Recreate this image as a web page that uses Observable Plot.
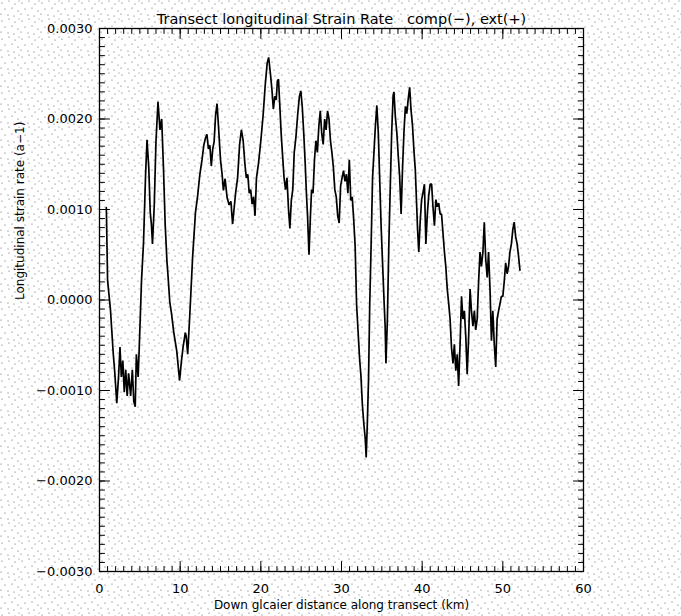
<!DOCTYPE html>
<html><head><meta charset="utf-8">
<script src="https://cdn.jsdelivr.net/npm/d3@7"></script>
<script src="https://cdn.jsdelivr.net/npm/@observablehq/plot@0.6"></script>
<style>
html,body{margin:0;padding:0;}
body{width:681px;height:616px;overflow:hidden;background-color:#fff;
background-image:url("data:image/svg+xml;utf8,<svg xmlns='http://www.w3.org/2000/svg' width='20' height='18'><g fill='%23585858'><circle cx='2' cy='3' r='0.6'/><circle cx='9' cy='1' r='0.6'/><circle cx='15' cy='4' r='0.6'/><circle cx='5' cy='9' r='0.6'/><circle cx='12' cy='8' r='0.6'/><circle cx='18' cy='11' r='0.6'/><circle cx='1' cy='14' r='0.6'/><circle cx='8' cy='15' r='0.6'/><circle cx='14' cy='16' r='0.6'/><circle cx='19' cy='1' r='0.5'/></g></svg>");}
#chart svg{display:block;}
</style></head><body><div id="chart"></div>
<script>
const title = "Transect longitudinal Strain Rate   comp(\u2212), ext(+)";
const xLabel = "Down glcaier distance along transect (km)";
const yLabel = "Longitudinal strain rate (a\u22121)";
const xTickLabels = [0, 10, 20, 30, 40, 50, 60];
const yTickLabels = [-0.003, -0.002, -0.001, 0, 0.001, 0.002, 0.003];

const distanceKm = [
0.85,1.0,1.36,1.71,1.9,2.14,2.36,2.54,2.71,2.89,3.07,3.25,3.43,3.61,3.86,4.07,4.25,4.43,4.57,4.79,4.93,
5.21,5.46,5.71,5.89,6.11,6.29,6.43,6.57,6.79,7.0,7.25,7.5,7.71,7.93,8.14,8.36,8.5,8.71,8.93,9.21,9.57,9.93,
10.14,10.36,10.64,10.75,10.93,11.18,11.54,11.9,12.14,12.43,12.71,12.93,13.14,13.32,13.5,13.68,13.86,14.04,
14.21,14.39,14.57,14.75,15.0,15.21,15.36,15.57,15.82,16.07,16.29,16.5,
16.87,17.12,17.37,17.59,17.81,18.02,18.2,18.38,18.56,18.74,18.92,19.1,19.28,19.46,19.71,20.0,20.29,20.54,
20.79,20.97,21.19,21.37,21.55,21.73,21.91,22.05,22.19,22.34,22.52,22.7,22.88,23.06,23.24,23.42,23.6,23.78,
23.96,24.14,24.35,24.57,24.78,24.96,25.14,25.32,25.5,25.65,25.79,25.97,26.15,26.29,26.47,26.65,26.83,27.01,
27.19,27.37,27.55,27.73,27.91,28.09,28.27,28.45,28.63,28.81,28.99,29.17,29.35,29.53,29.71,29.89,30.07,30.25,
30.43,30.61,30.79,30.97,31.15,31.33,31.51,31.69,31.87,32.05,32.23,32.41,32.59,32.77,32.95,33.06,33.2,33.35,
33.5,33.67,33.85,
34.2,34.38,34.56,34.7,34.91,35.09,35.27,35.41,35.51,35.69,35.87,36.04,36.22,36.4,36.5,36.68,36.86,37.03,
37.21,37.39,37.56,37.74,37.92,38.09,38.27,38.45,38.62,38.8,38.98,39.15,39.29,39.43,39.58,39.75,39.93,40.11,
40.28,40.46,40.64,40.81,40.99,41.17,41.34,41.52,41.7,41.87,42.05,42.23,42.4,42.58,42.76,42.93,43.11,43.29,
43.46,43.64,43.82,43.99,44.17,44.35,44.52,44.7,44.88,45.05,45.23,45.41,45.58,45.76,45.94,46.11,46.29,46.47,
46.64,46.82,47.0,47.17,47.35,47.53,47.7,47.88,48.06,48.23,48.41,48.59,48.76,48.94,49.12,49.29,49.47,49.65,
49.82,50.0,50.18,50.35,50.53,50.71,50.88,51.06,51.24,51.41,51.59,51.77,51.94,52.12
];
// strain rate in units of 1e-3 a^-1
const strainRateE3 = [
1.02,0.22,-0.11,-0.60,-0.81,-1.14,-0.85,-0.52,-0.85,-0.67,-1.02,-0.77,-1.06,-0.81,-1.06,-0.77,-1.12,-1.18,-0.60,-0.85,-0.52,
0.22,0.64,1.38,1.77,1.46,0.97,0.84,0.62,1.05,1.75,2.19,1.88,2.0,1.46,0.84,0.43,0.26,-0.02,-0.15,-0.36,-0.56,-0.89,
-0.69,-0.52,-0.36,-0.40,-0.60,-0.19,0.47,0.97,1.13,1.38,1.55,1.71,1.79,1.83,1.67,1.71,1.48,1.67,
1.75,2.04,2.17,1.92,1.55,1.38,1.21,1.34,1.13,1.05,1.09,0.84,
1.18,1.35,1.72,1.88,1.76,1.51,1.35,1.39,1.18,1.22,1.06,1.14,0.93,1.35,1.51,1.76,2.05,2.37,
2.62,2.68,2.50,2.33,2.11,2.25,2.21,2.42,2.44,2.17,1.84,1.59,1.35,1.22,1.35,1.02,0.79,1.10,
1.22,1.63,1.80,2.05,2.25,2.31,2.13,1.84,1.51,1.18,0.93,0.50,0.93,1.22,1.18,1.55,1.76,1.63,
1.92,2.09,1.84,1.72,2.00,1.88,2.09,2.00,1.76,1.63,1.47,1.22,1.14,0.93,0.85,1.26,1.35,1.43,
1.31,1.39,1.18,1.55,1.10,1.14,0.89,0.60,-0.05,-0.34,-0.63,-0.84,-1.16,-1.37,-1.54,-1.74,-1.37,-0.88,
-0.05,0.60,1.35,
1.92,2.15,1.85,1.44,0.82,0.41,0.0,-0.29,-0.70,-0.21,0.62,1.23,1.85,2.26,2.30,2.02,1.85,1.60,
1.36,0.95,1.44,1.85,2.14,2.06,2.22,2.35,2.10,1.93,1.65,1.44,1.11,0.78,0.53,0.86,1.11,1.19,
1.28,0.62,0.95,1.15,1.28,1.28,1.03,0.82,1.11,1.03,1.07,0.95,0.95,0.74,0.53,0.37,0.12,-0.04,
-0.21,-0.53,-0.70,-0.49,-0.78,-0.60,-0.95,-0.49,0.04,-0.21,-0.12,-0.41,-0.82,-0.41,0.12,-0.12,-0.29,-0.12,
-0.33,-0.21,0.21,0.53,0.37,0.53,0.86,0.45,0.25,0.53,0.12,-0.45,-0.12,-0.49,-0.74,-0.21,-0.12,-0.04,
0.04,0.04,0.21,0.41,0.29,0.37,0.53,0.62,0.78,0.86,0.70,0.62,0.49,0.33
];

const data = distanceKm.map((d, i) => ({km: d, rate: strainRateE3[i] * 1e-3}));

const xMinor = d3.range(0, 61, 1);
const yMinor = d3.range(-30, 31).map(i => i * 1e-4);

const tickShape = {draw(ctx, l) { ctx.moveTo(0, 0); ctx.lineTo(0, -l); }};
function ticks(values, axis, anchor, rotate, len) {
  const o = {frameAnchor: anchor, rotate, length: len, anchor: "start", shape: tickShape, stroke: "black", strokeWidth: 1};
  o[axis] = d => d;
  return Plot.vector(values, o);
}

const chart = Plot.plot({
  width: 681, height: 616,
  marginLeft: 99, marginRight: 98, marginTop: 28, marginBottom: 45,
  style: {background: "transparent", fontFamily: "'DejaVu Sans', sans-serif", fontSize: "13px", color: "black", overflow: "visible"},
  x: {domain: [0, 60]},
  y: {domain: [-0.003, 0.003]},
  marks: [
    Plot.axisX(xTickLabels, {anchor: "bottom", tickSize: 0, tickPadding: 12, label: null, fontSize: 13}),
    Plot.axisY(yTickLabels, {anchor: "left", tickSize: 0, tickPadding: 7, label: null, fontSize: 13, tickFormat: d3.format(".4f")}),
    ticks(xMinor, "x", "bottom", 0, 5),
    ticks(xTickLabels, "x", "bottom", 0, 10),
    ticks(xMinor, "x", "top", 180, 5),
    ticks(xTickLabels, "x", "top", 180, 10),
    ticks(yMinor, "y", "left", 90, 5),
    ticks(yTickLabels, "y", "left", 90, 10),
    ticks(yMinor, "y", "right", -90, 5),
    ticks(yTickLabels, "y", "right", -90, 10),
    Plot.frame({stroke: "black", strokeWidth: 1.3}),
    Plot.line(data, {x: "km", y: "rate", stroke: "black", strokeWidth: 1.7, strokeLinejoin: "miter"}),
    Plot.text([title], {frameAnchor: "top", dy: -15, fontSize: 14.5, fill: "black"}),
    Plot.text([xLabel], {frameAnchor: "bottom", dy: 37, fontSize: 12, fill: "black"}),
    Plot.text([yLabel], {frameAnchor: "left", dx: -79, rotate: -90, fontSize: 12, fill: "black"})
  ]
});
document.getElementById("chart").appendChild(chart);
</script></body></html>
